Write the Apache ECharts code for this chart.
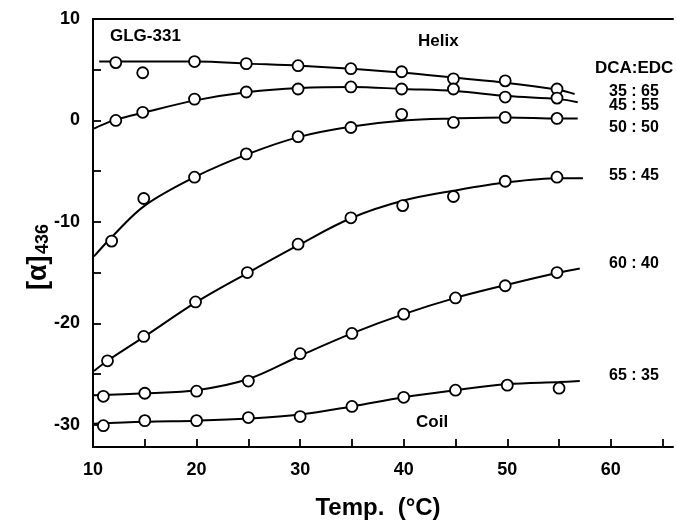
<!DOCTYPE html>
<html><head><meta charset="utf-8">
<script src="https://cdn.jsdelivr.net/npm/echarts@6/dist/echarts.min.js"></script>
<style>html,body{margin:0;padding:0;background:#fff}#c{width:677px;height:523px}</style>
</head><body><div id="c"></div>
<script>
// Ratio labels (DCA:EDC)
const ratios = ['35:65','45:55','50:50','55:45','60:40','65:35'];
// Fitted curves
const curve35 = [[10.6,5.8],[15,5.8],[20,5.8],[25,5.6],[30,5.4],[35,5.1],[40,4.7],[45,4.2],[50,3.7],[55,3.0],[56.5,2.6]];
const curve45 = [[10.1,-0.8],[12,0],[15,0.8],[20,2.0],[25,2.8],[30,3.2],[35,3.3],[40,3.1],[45,2.9],[50,2.4],[55,2.1],[56.8,1.8]];
const curve50 = [[10.1,-13.4],[12,-11.3],[15,-8.4],[20,-5.5],[25,-3.3],[30,-1.6],[35,-0.6],[40,0.0],[45,0.2],[50,0.3],[55,0.2],[56.8,0.2]];
const curve55 = [[10.1,-24.7],[11.4,-23.7],[15,-21.3],[20,-17.9],[25,-15.0],[30,-12.2],[35,-9.6],[40,-7.9],[45,-6.9],[50,-6.1],[55,-5.7],[57.3,-5.7]];
const curve60 = [[10.1,-27.1],[15,-26.9],[20,-26.6],[25,-25.5],[30,-23.2],[35,-21.0],[40,-19.1],[45,-17.5],[50,-16.2],[55,-15.0],[57,-14.6]];
const curve65 = [[10.1,-29.9],[15,-29.7],[20,-29.6],[25,-29.4],[30,-29.0],[35,-28.2],[40,-27.3],[45,-26.6],[50,-26.0],[55,-25.8],[57,-25.7]];
// Measured points
const pts35 = [[12.2,5.7],[14.8,4.7],[19.8,5.8],[24.8,5.6],[29.8,5.4],[34.9,5.1],[39.8,4.8],[44.8,4.1],[49.8,3.9],[54.8,3.1]];
const pts45 = [[12.2,0],[14.8,0.8],[19.8,2.1],[24.8,2.8],[29.8,3.1],[34.9,3.3],[39.8,3.1],[44.8,3.1],[49.8,2.3],[54.8,2.2]];
const pts50 = [[11.8,-11.9],[14.9,-7.7],[19.8,-5.6],[24.8,-3.3],[29.8,-1.6],[34.9,-0.7],[39.8,0.6],[44.8,-0.2],[49.8,0.3],[54.8,0.2]];
const pts55 = [[11.4,-23.7],[14.9,-21.3],[19.9,-17.9],[24.9,-15.0],[29.8,-12.2],[34.9,-9.6],[39.9,-8.4],[44.8,-7.5],[49.8,-6.0],[54.8,-5.6]];
const pts60 = [[11,-27.2],[15,-26.9],[20,-26.7],[25,-25.7],[30,-23.0],[35,-21.0],[40,-19.1],[45,-17.5],[49.8,-16.3],[54.8,-15.0]];
const pts65 = [[11,-30.1],[15,-29.6],[20,-29.6],[25,-29.3],[30,-29.2],[35,-28.2],[40,-27.3],[45,-26.6],[50,-26.1],[55,-26.4]];
// Axis ticks
const xTicks = [10,15,20,25,30,35,40,45,50,55,60,65];
const xLabels = [10,20,30,40,50,60];
const yTicks = [-30,-25,-20,-15,-10,-5,0,5,10];
const yLabels = [-30,-20,-10,0,10];

const curves = [curve35,curve45,curve50,curve55,curve60,curve65];
const pts = [pts35,pts45,pts50,pts55,pts60,pts65];
const FONT = '"Liberation Sans", Arial, sans-serif';
const series = [];
curves.forEach((c,i)=>{
  series.push({type:'line', name:ratios[i], data:c, smooth:0.35, showSymbol:false, symbol:'none',
    lineStyle:{color:'#000', width:2}, z:2, silent:true});
});
pts.forEach((p,i)=>{
  series.push({type:'scatter', name:ratios[i]+' pts', data:p, symbol:'circle', symbolSize:11,
    itemStyle:{color:'#fff', opacity:1, borderColor:'#000', borderWidth:1.8}, z:3, silent:true});
});
const labelY = [92,106,128,176,264,376];
const graphics = [
  {type:'text', left:110, top:28, style:{text:'GLG-331', font:'bold 17px '+FONT, fill:'#000'}},
  {type:'text', left:418, top:33, style:{text:'Helix', font:'bold 17px '+FONT, fill:'#000'}},
  {type:'text', left:416, top:414, style:{text:'Coil', font:'bold 17px '+FONT, fill:'#000'}},
  {type:'text', left:595, top:60, style:{text:'DCA:EDC', font:'bold 17px '+FONT, fill:'#000'}},
  {type:'text', x:378, y:508, style:{text:'Temp.  (°C)', font:'bold 24px '+FONT, fill:'#000', textAlign:'center', textVerticalAlign:'middle'}},
  {type:'group', x:38, y:290, rotation:Math.PI/2, children:[
    {type:'text', x:0, y:-13, style:{text:'[α]', font:'bold 27px '+FONT, fill:'#000', textVerticalAlign:'top'}},
    {type:'text', x:36, y:-4, style:{text:'436', font:'bold 18px '+FONT, fill:'#000', textVerticalAlign:'top'}}
  ]}
];
ratios.forEach((r,i)=>{
  graphics.push({type:'text', x:609, y:labelY[i], style:{text:r.replace(':',' : '), font:'bold 16px '+FONT, fill:'#000', textVerticalAlign:'middle'}});
});
const chart = echarts.init(document.getElementById('c'));
chart.setOption({
  backgroundColor:'#fff',
  animation:false,
  grid:{left:93, right:4, top:19, bottom:76},
  xAxis:[{type:'value', min:10, max:66,
    axisLine:{onZero:false, lineStyle:{color:'#000', width:2}},
    axisTick:{inside:true, length:8, customValues:xTicks, lineStyle:{color:'#000', width:1.8}},
    axisLabel:{customValues:xLabels, color:'#000', fontSize:18, fontWeight:'bold', fontFamily:FONT, margin:14},
    splitLine:{show:false}},
    {type:'value', min:10, max:66, position:'top', axisLine:{show:true, onZero:false, lineStyle:{color:'#000', width:2}},
    axisTick:{show:false}, axisLabel:{show:false}, splitLine:{show:false}}],
  yAxis:{type:'value', min:-32.2, max:10,
    axisLine:{show:true, onZero:false, lineStyle:{color:'#000', width:2}},
    axisTick:{show:true, inside:true, length:8, customValues:yTicks, lineStyle:{color:'#000', width:1.8}},
    axisLabel:{customValues:yLabels, color:'#000', fontSize:18, fontWeight:'bold', fontFamily:FONT, margin:13},
    splitLine:{show:false}},
  series:series,
  graphic:graphics
});
</script></body></html>
